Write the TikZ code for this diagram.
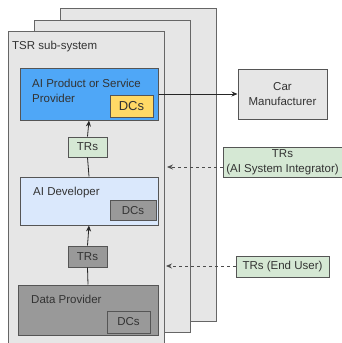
\documentclass[tikz,border=0pt]{standalone}
\usepackage{fontspec}
\setmainfont{Liberation Sans}
\usetikzlibrary{arrows.meta}
\definecolor{panelgray}{HTML}{E6E6E6}
\definecolor{linegray}{HTML}{555555}
\definecolor{provblue}{HTML}{4FA7F7}
\definecolor{dcyellow}{HTML}{FFD966}
\definecolor{trgreen}{HTML}{D5E8D4}
\definecolor{devblue}{HTML}{DAE8FC}
\definecolor{darkgray}{HTML}{999999}
\begin{document}
\begin{tikzpicture}[x=1pt,y=-1pt,
  font=\fontsize{11.5}{14.5}\selectfont, text=black!80,
  panel/.style={draw=black!60, fill=panelgray, line width=1pt},
  box/.style={draw=linegray, line width=1pt, inner sep=0pt},
  title/.style={anchor=base west, inner sep=0pt, align=left},
  link/.style={draw=black!85, line width=0.8pt, -{Stealth[length=6pt,width=5pt]}},
  feed/.style={draw=black!70, line width=0.8pt, dashed, -{Stealth[length=6pt,width=5pt]}}]
\useasboundingbox (0,0) rectangle (341,343);
% stacked sub-systems
\draw[panel] (60,8) rectangle (216,321);
\draw[panel] (34,20) rectangle (190,332);
\draw[panel] (8,31) rectangle (164,346);
\node[title] (tsr) at (12,49.3) {TSR sub-system};
% AI product or service provider
\node[box, fill=provblue, minimum width=138, minimum height=52] (prov) at (89,94) {};
\node[title] (provtxt) at (32,102) {AI Product or Service\\Provider};
\node[box, fill=dcyellow, minimum width=43, minimum height=22, font=\fontsize{13}{15}\selectfont] (provdc) at (131.5,106) {DCs};
\node[box, fill=trgreen, minimum width=39, minimum height=20] (trsi) at (87.5,147) {TRs};
% AI developer
\node[box, fill=devblue, minimum width=138, minimum height=48] (dev) at (89,201) {};
\node[title] (devtxt) at (33,195.7) {AI Developer};
\node[box, fill=darkgray, minimum width=46, minimum height=20] (devdc) at (133,210.5) {DCs};
\node[box, fill=darkgray, minimum width=39, minimum height=21] (trdp) at (87.5,256.5) {TRs};
% data provider
\node[box, fill=darkgray, minimum width=140, minimum height=50] (data) at (88,310) {};
\node[title] (datatxt) at (31,303.3) {Data Provider};
\node[box, fill=darkgray, minimum width=43, minimum height=22] (datadc) at (128.5,322) {DCs};
% outside
\node[box, fill=panelgray, minimum width=89, minimum height=50, align=center] (car) at (282.5,94) {Car\\Manufacturer};
\node[box, fill=trgreen, minimum width=119, minimum height=30, align=center] (aisi) at (282.5,162) {TRs\\(AI System Integrator)};
\node[box, fill=trgreen, minimum width=93, minimum height=21] (user) at (282.5,266.5) {TRs (End User)};
\coordinate (insi) at (167,167);
\coordinate (inuser) at (166,266);
% connectors
\draw[link] (prov.east) -- (car.west);
\draw[draw=black!85, line width=0.8pt] (dev.north) -- (trsi.south);
\draw[link] (trsi.north) -- (prov.south);
\draw[draw=black!85, line width=0.8pt] (data.north) -- (trdp.south);
\draw[link] (trdp.north) -- (dev.south);
\draw[feed] (aisi.west |- insi) -- (insi);
\draw[feed] (user.west |- inuser) -- (inuser);
\end{tikzpicture}
\end{document}
